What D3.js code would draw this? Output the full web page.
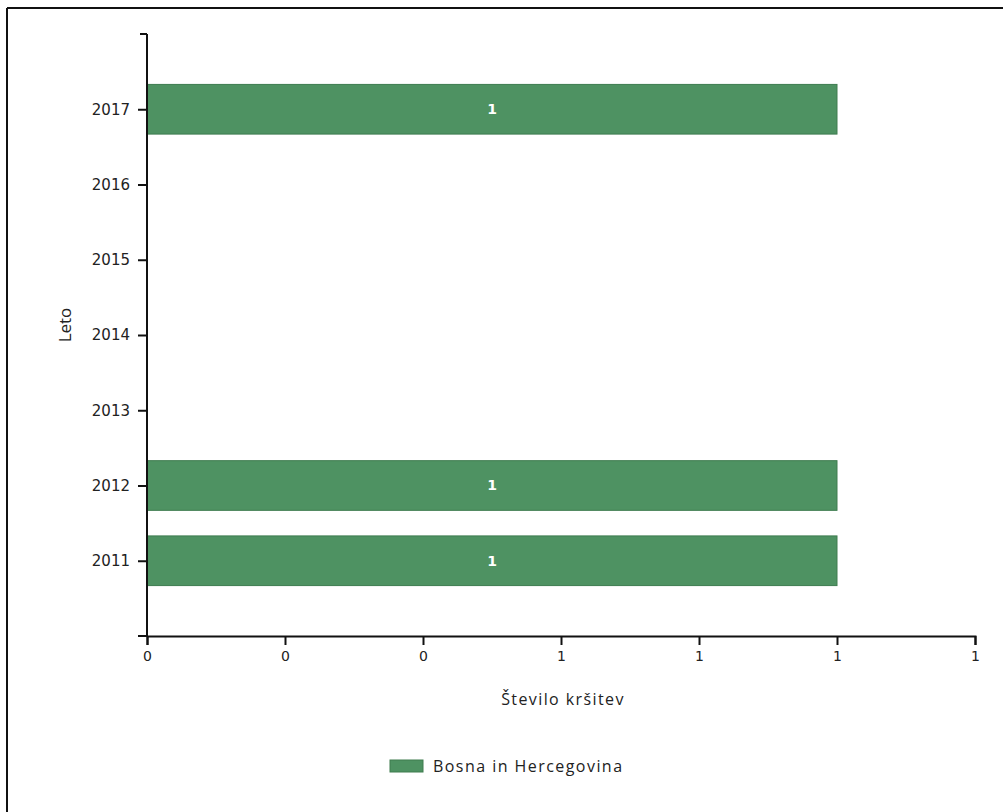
<!DOCTYPE html>
<html><head><meta charset="utf-8">
<script src="https://cdn.jsdelivr.net/npm/d3@7"></script>
<style>body{margin:0;background:#fff}</style>
</head><body>
<script>
const years = ["2011","2012","2013","2014","2015","2016","2017"];
const values = [1, 1, null, null, null, null, 1];
const seriesName = "Bosna in Hercegovina";
const xTicks = [0, 0.2, 0.4, 0.6, 0.8, 1.0, 1.2];
const xTitle = "Število kršitev";
const yTitle = "Leto";

(function(){
const W = 1003, H = 812;
const svg = d3.select("body").append("svg").attr("width", W).attr("height", H);

// frame (top and left edges only)
svg.append("line").attr("x1",7).attr("x2",W).attr("y1",8).attr("y2",8).attr("stroke","#111").attr("stroke-width",2);
svg.append("line").attr("x1",7).attr("x2",7).attr("y1",8).attr("y2",H).attr("stroke","#111").attr("stroke-width",2);

const mLeft = 147, mRight = 975, mTop = 34, mBottom = 636;
const x = d3.scaleLinear().domain([0, 1.2]).range([mLeft, mRight]);
const y = d3.scalePoint().domain(years).range([mBottom, mTop]).padding(1);
const bh = y.step() * 0.66;

const data = years.map((yr, i) => ({yr, v: values[i]})).filter(d => d.v != null);

svg.selectAll("rect.bar").data(data).enter().append("rect")
  .attr("class","bar")
  .attr("x", x(0)).attr("y", d => y(d.yr) - bh/2)
  .attr("width", d => x(d.v) - x(0)).attr("height", bh)
  .attr("fill", "#4e9262").attr("stroke", "#3e7c4f").attr("stroke-width", 1);

svg.selectAll("text.lbl").data(data).enter().append("text")
  .attr("x", d => (x(0) + x(d.v))/2).attr("y", d => y(d.yr))
  .attr("dy","0.35em").attr("text-anchor","middle")
  .attr("fill","#fff").attr("font-family","DejaVu Sans, sans-serif")
  .attr("font-size",14).attr("font-weight","bold").text(d => d.v);

const xAxis = svg.append("g").attr("transform", `translate(0,${mBottom})`)
  .call(d3.axisBottom(x).tickValues(xTicks).tickFormat(d3.format(".0f")).tickSize(9).tickSizeOuter(9).tickPadding(6));
const yAxis = svg.append("g").attr("transform", `translate(${mLeft},0)`)
  .call(d3.axisLeft(y).tickSize(9).tickSizeOuter(0).tickPadding(8));

svg.append("line").attr("x1",mLeft-9).attr("x2",mLeft).attr("y1",mBottom).attr("y2",mBottom).attr("stroke","#111").attr("stroke-width",2);
svg.append("line").attr("x1",mLeft-7).attr("x2",mLeft).attr("y1",mTop).attr("y2",mTop).attr("stroke","#111").attr("stroke-width",2);

[xAxis, yAxis].forEach(g => {
  g.selectAll("path,line").attr("stroke","#111").attr("stroke-width",2);
  g.selectAll("text").attr("font-family","DejaVu Sans, sans-serif").attr("font-size",15).attr("fill","#222");
});
xAxis.selectAll("text").attr("font-size",14);
yAxis.select("path.domain").attr("d", `M0,${mTop}V${mBottom}`);

svg.append("text").attr("x", (mLeft+mRight)/2 + 2).attr("y", 705)
  .attr("text-anchor","middle").attr("font-family","Open Sans, sans-serif")
  .attr("font-size",16).attr("letter-spacing",1.4).attr("fill","#222").text(xTitle);

svg.append("text").attr("transform", `translate(71,325) rotate(-90)`)
  .attr("text-anchor","middle").attr("font-family","Open Sans, sans-serif")
  .attr("font-size",17).attr("fill","#222").text(yTitle);

const lg = svg.append("g").attr("transform","translate(390,760)");
lg.append("rect").attr("width",33).attr("height",12).attr("fill","#4e9262").attr("stroke","#3e7c4f");
lg.append("text").attr("x",43).attr("y",6).attr("dy","0.35em")
  .attr("font-family","Open Sans, sans-serif").attr("font-size",16).attr("letter-spacing",1.45)
  .attr("fill","#222").text(seriesName);
})();
</script>
</body></html>
